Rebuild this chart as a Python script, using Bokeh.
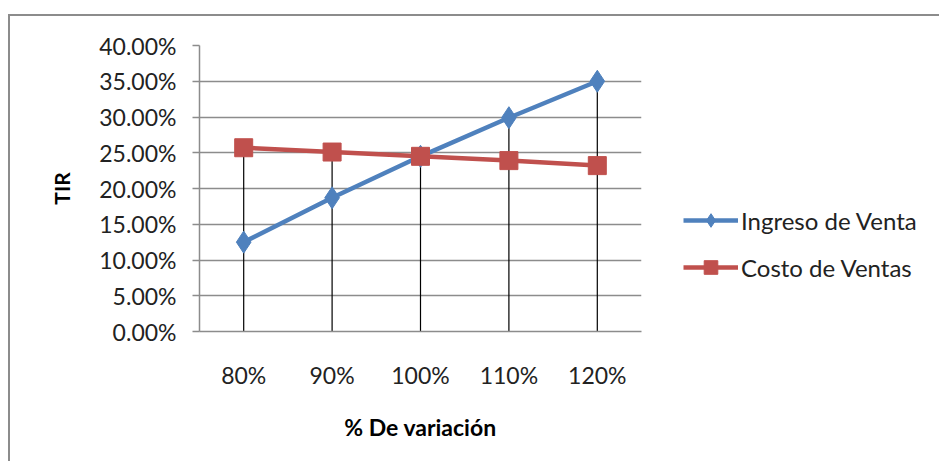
from bokeh.plotting import figure
from bokeh.models import (FactorRange, Range1d, NumeralTickFormatter,
                          Legend, LegendItem, ColumnDataSource)
from bokeh.embed import file_html
from bokeh.resources import INLINE

categories = ["80%", "90%", "100%", "110%", "120%"]
ingreso = [0.125, 0.187, 0.245, 0.299, 0.350]
costo = [0.257, 0.251, 0.245, 0.239, 0.232]
y_ticks = [0.0, 0.05, 0.10, 0.15, 0.20, 0.25, 0.30, 0.35, 0.40]

FONT = "Lato"
BLUE = "#4F81BD"
RED = "#C0504D"
GRID = "#8C8C8C"

p = figure(frame_width=442, frame_height=286, output_backend="svg", toolbar_location=None,
           x_range=FactorRange(*categories, range_padding=0),
           y_range=Range1d(0, 0.4),
           min_border_left=189, min_border_right=0, min_border_top=29, min_border_bottom=130)
p.outline_line_color = None
p.background_fill_color = "white"
p.border_fill_color = "white"
p.styles = {"margin-left": "8px", "margin-top": "14px",
            "border-top": "2px solid #8C8C8C", "border-left": "2px solid #8C8C8C"}

# drop lines
tops = [max(a, b) for a, b in zip(ingreso, costo)]
p.segment(x0=categories, y0=[0] * len(categories), x1=categories, y1=tops,
          line_color="black", line_width=1.2)

src = ColumnDataSource(dict(x=categories, ing=ingreso, cos=costo))
l1 = p.line("x", "ing", source=src, line_color=BLUE, line_width=4.5)
m1 = p.scatter("x", "ing", source=src, marker="diamond", size=22, fill_color=BLUE, line_color=BLUE)
l2 = p.line("x", "cos", source=src, line_color=RED, line_width=4.5)
m2 = p.scatter("x", "cos", source=src, marker="square", size=18, fill_color=RED, line_color=RED)

# y axis
p.yaxis.ticker = y_ticks
p.yaxis.formatter = NumeralTickFormatter(format="0.00%")
p.yaxis.axis_line_color = GRID
p.yaxis.axis_line_width = 1.5
p.yaxis.major_tick_line_color = GRID
p.yaxis.major_tick_line_width = 1.5
p.yaxis.major_tick_in = 0
p.yaxis.major_tick_out = 7
p.yaxis.minor_tick_line_color = None
p.yaxis.major_label_text_font = FONT
p.yaxis.major_label_text_font_size = "23px"
p.yaxis.major_label_text_color = "#222222"
p.yaxis.major_label_standoff = 16
p.yaxis.axis_label = "TIR"
p.yaxis.axis_label_text_font = FONT
p.yaxis.axis_label_text_font_style = "bold"
p.yaxis.axis_label_text_font_size = "21px"
p.yaxis.axis_label_text_color = "black"
p.yaxis.axis_label_standoff = 22

# x axis
p.xaxis.axis_line_color = GRID
p.xaxis.axis_line_width = 1.5
p.xaxis.major_tick_line_color = None
p.xaxis.major_tick_out = 0
p.xaxis.major_tick_in = 0
p.xaxis.minor_tick_line_color = None
p.xaxis.major_label_text_font = FONT
p.xaxis.major_label_text_font_size = "23px"
p.xaxis.major_label_text_color = "#222222"
p.xaxis.major_label_standoff = 29
p.xaxis.axis_label = "% De variación"
p.xaxis.axis_label_text_font = FONT
p.xaxis.axis_label_text_font_style = "bold"
p.xaxis.axis_label_text_font_size = "23px"
p.xaxis.axis_label_text_color = "black"
p.xaxis.axis_label_standoff = 21

p.xgrid.grid_line_color = None
p.ygrid.grid_line_color = GRID
p.ygrid.grid_line_width = 1.5

legend = Legend(items=[LegendItem(label="Ingreso de Venta", renderers=[l1, m1]),
                       LegendItem(label="Costo de Ventas", renderers=[l2, m2])],
                location=(42, 47), orientation="vertical",
                glyph_width=55, glyph_height=34, label_height=24, spacing=13,
                label_standoff=3, padding=0, margin=0,
                border_line_color=None, background_fill_alpha=0,
                label_text_font=FONT, label_text_font_size="24px", label_text_color="#222222")
p.add_layout(legend, "right")

open("out.html", "w").write(file_html(p, INLINE))
